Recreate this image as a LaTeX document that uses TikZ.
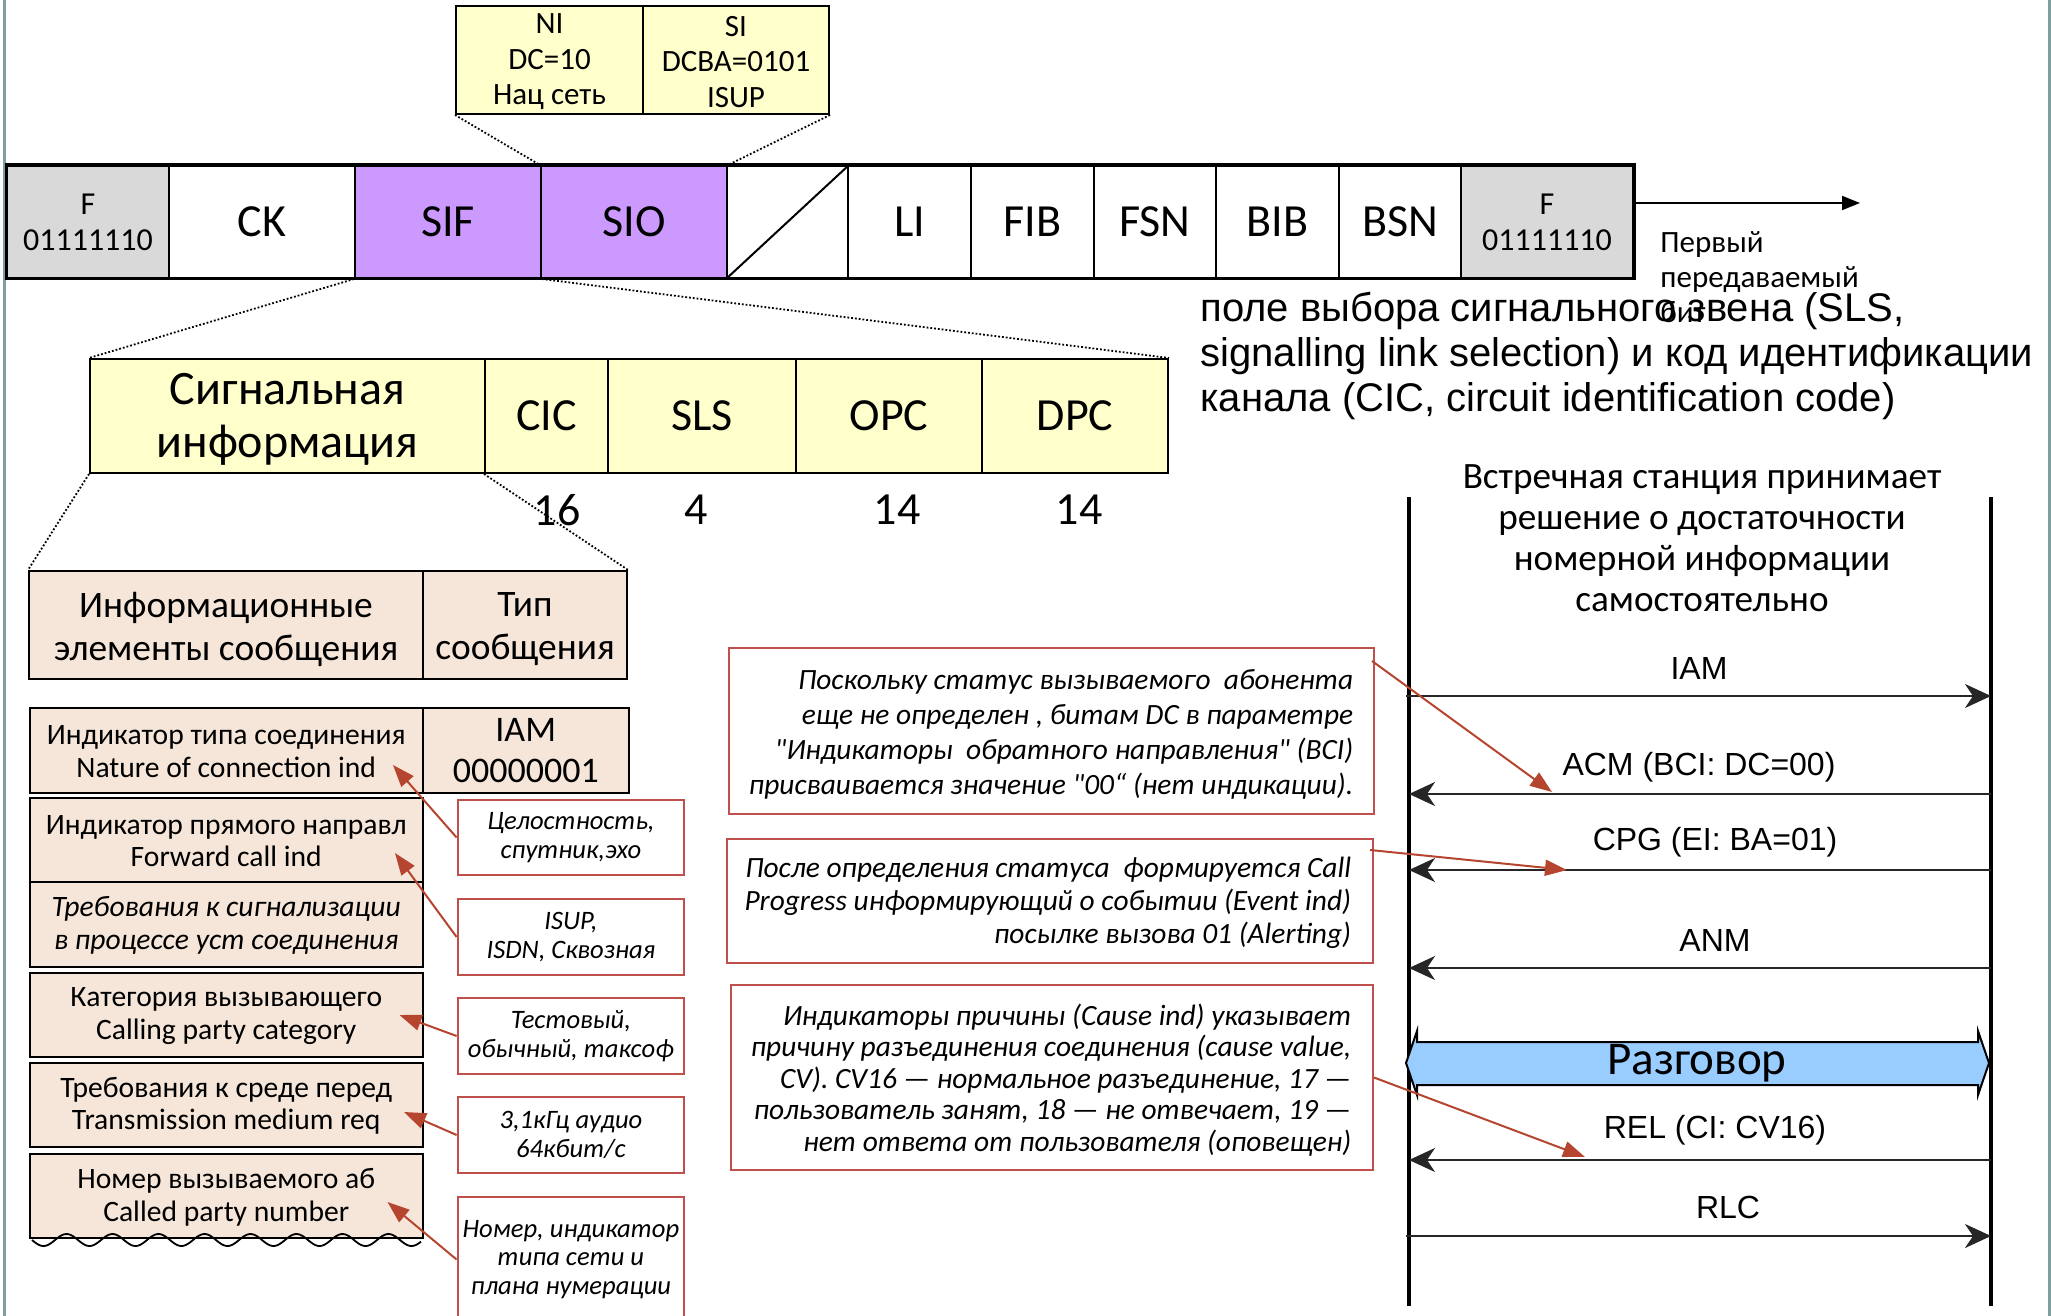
\documentclass[tikz,border=0pt]{standalone}
\usepackage{fontspec}
\setmainfont{Carlito}[Ligatures=TeXOff]
\newfontfamily\arialf{Liberation Sans}
\usetikzlibrary{fit,arrows.meta,calc}
\definecolor{grayc}{HTML}{D9D9D9}
\definecolor{purp}{HTML}{CC99FF}
\definecolor{yel}{HTML}{FFFFCC}
\definecolor{peach}{HTML}{F5E6D9}
\definecolor{redb}{HTML}{C0504D}
\definecolor{redarr}{HTML}{B5452E}
\definecolor{bandblue}{HTML}{99CCFF}
\definecolor{sidec}{HTML}{7F9E9E}
\newcommand\myfs[2]{\fontsize{#1}{#2}\selectfont}
\begin{document}
\begin{tikzpicture}[x=0.5pt,y=-0.5pt,
  cell/.style={draw, line width=1pt, inner sep=0pt},
  txt/.style={inner sep=0pt, align=center},
  lbl/.style={txt, font=\myfs{23}{27}},
  flagt/.style={txt, font=\myfs{16}{17.85}},
  nit/.style={txt, font=\myfs{15.5}{17.75}},
  elemt/.style={txt, font=\myfs{14.8}{16.3}},
  redbox/.style={draw=redb, line width=1pt, inner sep=0pt, fill=white},
  redt/.style={txt, font=\myfs{13.3}{14.4}\itshape},
  redarrow/.style={draw=redarr, line width=1pt, -{Triangle[length=11pt,width=8pt]}, redarr},
  expl/.style={draw=redb, line width=1pt, inner sep=0pt},
  expltext/.style={inner sep=0pt, align=right, anchor=east},
  dots/.style={densely dotted, line width=0.9pt},
  lifeline/.style={line width=1.8pt},
  msg/.style={line width=1.2pt, black!85, -{Stealth[length=13pt,width=12pt,inset=4pt]}},
  seqlab/.style={inner sep=0pt, font=\arialf\myfs{16}{18}},
]
\useasboundingbox (0,0) rectangle (2051,1316);

% side lines
\coordinate (sl1) at (4.5,0); \coordinate (sl2) at (4.5,1316);
\coordinate (sr1) at (2049.5,0); \coordinate (sr2) at (2049.5,1316);
\draw[sidec, line width=1.5pt] (sl1) -- (sl2);
\draw[sidec, line width=1.5pt] (sr1) -- (sr2);

% frame
\node[cell,fill=grayc,fit={(7,166)(169,278)}] (f1) {};
\node[cell,fit={(169,166)(355,278)}] (ck) {};
\node[cell,fill=purp,fit={(355,166)(541,278)}] (sif) {};
\node[cell,fill=purp,fit={(541,166)(727,278)}] (sio) {};
\node[cell,fit={(727,166)(848,278)}] (sp) {};
\node[cell,fit={(848,166)(971,278)}] (li) {};
\node[cell,fit={(971,166)(1094,278)}] (fib) {};
\node[cell,fit={(1094,166)(1216,278)}] (fsn) {};
\node[cell,fit={(1216,166)(1339,278)}] (bib) {};
\node[cell,fit={(1339,166)(1461,278)}] (bsn) {};
\node[cell,fill=grayc,fit={(1461,166)(1633,278)}] (f2) {};
\draw[line width=1pt] (sp.south west) -- (sp.north east);
\draw[line width=1.5pt] (f1.north west) rectangle (f2.south east);
\node[flagt] (f1t) at (f1.center) {F\\01111110};
\node[lbl] (ckt) at (ck.center) {CK};
\node[lbl] (sift) at (sif.center) {SIF};
\node[lbl] (siot) at (sio.center) {SIO};
\node[lbl] (lit) at (li.center) {LI};
\node[lbl] (fibt) at (fib.center) {FIB};
\node[lbl] (fsnt) at (fsn.center) {FSN};
\node[lbl] (bibt) at (bib.center) {BIB};
\node[lbl] (bsnt) at (bsn.center) {BSN};
\node[flagt] (f2t) at (f2.center) {F\\01111110};

\coordinate (dirend) at (1860,203);
\draw[line width=1pt, -{Triangle[length=9pt,width=7pt]}] (f2.east |- dirend) -- (dirend);
\node[inner sep=0pt, anchor=west, align=left, font=\myfs{15.5}{17.5}] (first) at (1660,276.7) {Первый\\передаваемый\\бит};

% NI / SI
\node[cell,fill=yel,fit={(456,6)(643,114)}] (ni) {};
\node[cell,fill=yel,fit={(643,6)(829,114)}] (si) {};
\node[nit] (nit) at ($(ni.center)+(0,2)$) {NI\\DC=10\\Нац сеть};
\node[nit] (sit) at ($(si.center)+(0,2)$) {SI\\DCBA=0101\\ISUP};
\draw[dots] (ni.south west) -- (sio.north west);
\draw[dots] (si.south east) -- (sio.north east);

% row 2
\node[cell,fill=yel,fit={(90,359)(485,473)}] (sig) {};
\node[cell,fill=yel,fit={(485,359)(608,473)}] (cic) {};
\node[cell,fill=yel,fit={(608,359)(796,473)}] (sls) {};
\node[cell,fill=yel,fit={(796,359)(982,473)}] (opc) {};
\node[cell,fill=yel,fit={(982,359)(1168,473)}] (dpc) {};
\node[txt,font=\myfs{24}{26.5}] (sigt) at ($(sig.center)+(0,3)$) {Сигнальная\\информация};
\node[lbl] (cict) at (cic.center) {CIC};
\node[lbl] (slst) at (sls.center) {SLS};
\node[lbl] (opct) at (opc.center) {OPC};
\node[lbl] (dpct) at (dpc.center) {DPC};
\draw[dots] (sif.south west) -- (sig.north west);
\draw[dots] (sif.south east) -- (dpc.north east);
\node[lbl] (n16) at (557,510) {16};
\node[lbl] (n4) at (696,510) {4};
\node[lbl] (n14a) at (897,510) {14};
\node[lbl] (n14b) at (1079,510) {14};

% row 3
\node[cell,fill=peach,fit={(29,571)(423,679)}] (ie) {};
\node[cell,fill=peach,fit={(423,571)(627,679)}] (mt) {};
\node[txt,font=\myfs{18.7}{21.5}] (iet) at ($(ie.center)+(0,4)$) {Информационные\\элементы сообщения};
\node[txt,font=\myfs{18.7}{21.5}] (mtt) at ($(mt.center)+(0,4)$) {Тип\\сообщения};
\draw[dots] (sig.south west) -- (ie.north west);
\draw[dots] (cic.south west) -- (mt.north east);

% elements
\node[cell,fill=peach,fit={(29.5,708)(423,793)}] (e1) {};
\node[cell,fill=peach,fit={(423,708)(628.5,793)}] (iam) {};
\node[cell,fill=peach,fit={(29.5,798)(423,882)}] (e2) {};
\node[cell,fill=peach,fit={(29.5,882)(423,967)}] (e3) {};
\node[cell,fill=peach,fit={(29.5,973)(423,1057)}] (e4) {};
\node[cell,fill=peach,fit={(29.5,1063)(423,1147)}] (e5) {};
\node[cell,fill=peach,fit={(29.5,1154)(423,1238)}] (e6) {};
\node[elemt] (e1t) at ($(e1.center)+(0,1)$) {Индикатор типа соединения\\Nature of connection ind};
\node[txt,font=\myfs{18}{20.5}] (iamt) at (iam.center) {IAM\\00000001};
\node[elemt] (e2t) at ($(e2.center)+(0,1)$) {Индикатор прямого направл\\Forward call ind};
\node[elemt,font=\myfs{14.8}{16.3}\itshape] (e3t) at ($(e3.center)+(0,1)$) {Требования к сигнализации\\в процессе уст соединения};
\node[elemt] (e4t) at ($(e4.center)+(0,1)$) {Категория вызывающего\\Calling party category};
\node[elemt] (e5t) at ($(e5.center)+(0,1)$) {Требования к среде перед\\Transmission medium req};
\node[elemt] (e6t) at ($(e6.center)+(0,1)$) {Номер вызываемого аб\\Called party number};
\draw[line width=0.9pt] plot[domain=32:421, samples=220, smooth] (\x, {1240+6*sin(7.826*(\x-32))});

% red boxes
\node[redbox,fit={(457.6,800)(684.3,875)}] (r1) {};
\node[redbox,fit={(457.6,899)(684.3,975)}] (r2) {};
\node[redbox,fit={(457.6,998)(684.3,1074)}] (r3) {};
\node[redbox,fit={(457.6,1097)(684.3,1173)}] (r4) {};
\node[redbox,fit={(457.6,1197)(684.3,1322)}] (r5) {};
\node[redt] (r1t) at (r1.center) {Целостность,\\спутник,эхо};
\node[redt] (r2t) at (r2.center) {ISUP,\\ISDN, Сквозная};
\node[redt] (r3t) at (r3.center) {Тестовый,\\обычный, таксоф};
\node[redt] (r4t) at (r4.center) {3,1кГц аудио\\64кбит/с};
\node[redt] (r5t) at (r5.center) {Номер, индикатор\\типа сети и\\плана нумерации};
\coordinate (t1) at (393,765);
\coordinate (t2) at (395,853);
\coordinate (t3) at (399.5,1015);
\coordinate (t4) at (404,1112);
\coordinate (t5) at (387.5,1202);
\draw[redarrow] (r1.west) -- (t1);
\draw[redarrow] (r2.west) -- (t2);
\draw[redarrow] (r3.west) -- (t3);
\draw[redarrow] (r4.west) -- (t4);
\draw[redarrow] (r5.west) -- (t5);

% explanation boxes
\node[expl,fit={(729,648)(1374,814)}] (m1) {};
\node[expltext,font=\myfs{14.7}{17.5}\itshape] (m1t) at (1353.6,734) {Поскольку статус вызываемого~ абонента\\еще не определен , битам DC в параметре\\"Индикаторы~ обратного направления" (BCI)\\присваивается значение "00“ (нет индикации).};
\node[expl,fit={(727,839)(1373,963)}] (m2) {};
\node[expltext,font=\myfs{14.7}{16.5}\itshape] (m2t) at (1351.5,902.5) {После определения статуса~ формируется Call\\Progress информирующий о событии (Event ind)\\посылке вызова 01 (Alerting)};
\node[expl,fit={(731,985)(1373,1170)}] (m3) {};
\node[expltext,font=\myfs{14.7}{15.8}\itshape] (m3t) at (1351.7,1080) {Индикаторы причины (Cause ind) указывает\\причину разъединения соединения (cause value,\\CV). CV16 — нормальное разъединение, 17 —\\пользователь занят, 18 — не отвечает, 19 —\\нет ответа от пользователя (оповещен)};

% SLS / CIC text
\node[inner sep=0pt, anchor=west, align=left, font=\arialf\myfs{20}{22.3}] (slstext) at (1200,356) {поле выбора сигнального звена (SLS,\\signalling link selection) и код идентификации\\канала (CIC, circuit identification code)};

% sequence
\node[align=center, font=\myfs{18.6}{20.5}, inner sep=0pt] (hdr) at (1702,538) {Встречная станция принимает\\решение о достаточности\\номерной информации\\самостоятельно};
\coordinate (lt) at (1409,497); \coordinate (lb) at (1409,1306);
\coordinate (rt) at (1991,497); \coordinate (rb) at (1991,1306);
\draw[lifeline] (lt) -- (lb);
\draw[lifeline] (rt) -- (rb);

\coordinate (iamL) at (1406,696); \coordinate (iamR) at (1991,696);
\draw[msg] (iamL) -- (iamR);
\node[seqlab] (iaml) at (1699,668) {IAM};
\coordinate (acmL) at (1409,794); \coordinate (acmR) at (1991,794);
\draw[msg] (acmR) -- (acmL);
\node[seqlab] (acml) at (1699,767) {ACM (BCI: DC=00)};
\coordinate (cpgL) at (1409,870); \coordinate (cpgR) at (1991,870);
\draw[msg] (cpgR) -- (cpgL);
\node[seqlab] (cpgl) at (1715,842) {CPG (EI: BA=01)};
\coordinate (anmL) at (1409,968); \coordinate (anmR) at (1991,968);
\draw[msg] (anmR) -- (anmL);
\node[seqlab] (anml) at (1715,940) {ANM};

\path[fill=bandblue, draw=black, line width=1pt] (1406,1063) -- (1417,1031) -- (1417,1042) -- (1978,1042) -- (1978,1031) -- (1989,1063) -- (1978,1095) -- (1978,1085) -- (1417,1085) -- (1417,1095) -- cycle;
\node[font=\myfs{23.5}{25}, inner sep=0pt] (talk) at (1697,1063) {Разговор};

\coordinate (relL) at (1409,1160); \coordinate (relR) at (1991,1160);
\draw[msg] (relR) -- (relL);
\node[seqlab] (rell) at (1715,1130) {REL (CI: CV16)};
\coordinate (rlcL) at (1406,1236); \coordinate (rlcR) at (1991,1236);
\draw[msg] (rlcL) -- (rlcR);
\node[seqlab] (rlcl) at (1728,1207) {RLC};

% red arrows from explanations
\coordinate (b1s) at (1372,661); \coordinate (b1t) at (1552,792);
\coordinate (b2s) at (1370,850); \coordinate (b2t) at (1567,870);
\coordinate (b3t) at (1585,1157);
\draw[redarrow] (b1s) -- (b1t);
\draw[redarrow] (b2s) -- (b2t);
\draw[redarrow] (m3.east) -- (b3t);
\end{tikzpicture}
\end{document}
